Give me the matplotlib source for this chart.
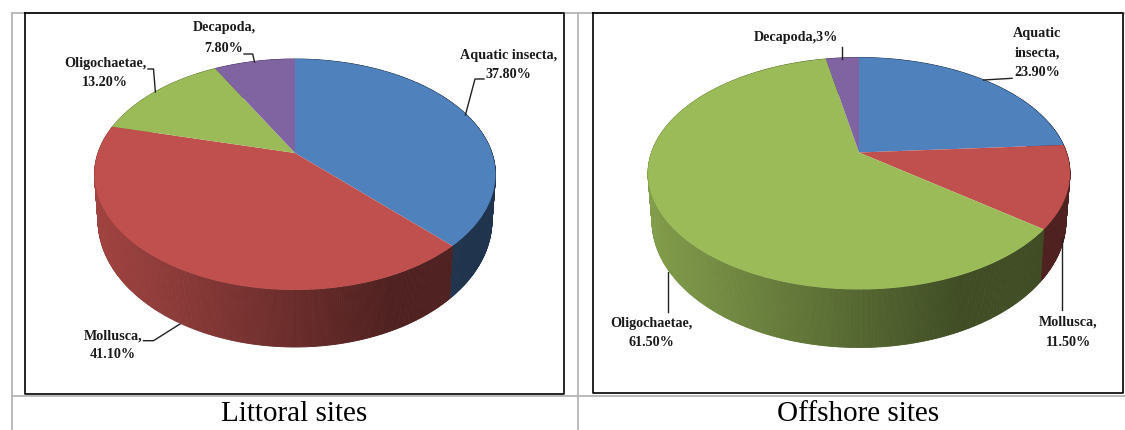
import numpy as np
import matplotlib
matplotlib.use("Agg")
import matplotlib.pyplot as plt
from matplotlib.collections import PolyCollection
from matplotlib.transforms import Transform

# Share of each taxon per site type, in clockwise order from twelve o'clock
categories = ["Aquatic insecta", "Mollusca", "Oligochaetae", "Decapoda"]
littoral_values = [37.8, 41.1, 13.2, 7.8]
offshore_values = [23.9, 11.5, 61.5, 3.0]
panel_titles = ["Littoral sites", "Offshore sites"]

SLICE_COLORS = ["#4F81BD", "#C0504D", "#9BBB59", "#8064A2"]
W, H = 1125, 430
SERIF = "Liberation Serif"


class TiltedDisc(Transform):
    """Projects the unit disc onto an ellipse, with the disc centre shifted towards the back."""
    input_dims = 2
    output_dims = 2

    def __init__(self, cx, cy, rx, ry, shift):
        super().__init__()
        self.params = (cx, cy, rx, ry, shift)

    def transform_non_affine(self, values):
        cx, cy, rx, ry, shift = self.params
        t = shift / ry
        xy = np.asarray(values, dtype=float)
        w = 1 + t * xy[:, 1]
        px = cx + rx * np.sqrt(1 - t * t) * xy[:, 0] / w
        py = cy - (ry * xy[:, 1] + shift) / w
        return np.column_stack([px, py])


def draw_cylinder_pie(ax, values, top, bottom, x_span):
    top_tf = TiltedDisc(*top)
    low_tf = TiltedDisc(*bottom)
    shares = np.asarray(values) / np.sum(values)
    edges = np.concatenate([[0], np.cumsum(shares)]) * 2 * np.pi

    # Outer wall: narrow strips that darken from left to right
    polys, cols = [], []
    for i, color in enumerate(SLICE_COLORS):
        n = max(int(shares[i] * 720), 2)
        th = np.linspace(edges[i], edges[i + 1], n + 1)
        rim = np.column_stack([np.sin(th), np.cos(th)])
        upper = top_tf.transform_non_affine(rim)
        lower = low_tf.transform_non_affine(rim)
        base = np.array(matplotlib.colors.to_rgb(color))
        for k in range(n):
            mid = 0.5 * (upper[k, 0] + upper[k + 1, 0])
            frac = np.clip((mid - x_span[0]) / (0.74 * (x_span[1] - x_span[0])), 0, 1)
            shade = 0.84 - 0.43 * frac
            polys.append([upper[k], upper[k + 1], lower[k + 1], lower[k]])
            cols.append(base * shade)
    ax.add_collection(PolyCollection(polys, facecolors=cols, edgecolors=cols,
                                     linewidths=0.6, zorder=2))

    # Top face
    ax.pie(values, colors=SLICE_COLORS, startangle=90, counterclock=False, normalize=True,
           wedgeprops={"transform": top_tf + ax.transData, "zorder": 3,
                       "linewidth": 0.4, "edgecolor": "none"})


fig = plt.figure(figsize=(W / 100, H / 100), dpi=100, facecolor="white")
ax = fig.add_axes([0, 0, 1, 1])

# Left pie
draw_cylinder_pie(ax, littoral_values, (295, 174.5, 200.5, 115.5, 21.5),
                  (295, 220, 197, 127, 23.6), (94, 495))
# Right pie
draw_cylinder_pie(ax, offshore_values, (859, 173.5, 211, 116, 21),
                  (859, 220.5, 207, 127, 23), (648, 1070))

ax.set_aspect("auto")
ax.set_xlim(0, W)
ax.set_ylim(H, 0)
ax.axis("off")

# Table rules and chart frames
GRAY = "#b5b5b5"
for xs, ys in [((11, W), (12.5, 12.5)), ((11, W), (396, 396)), ((11.5, 11.5), (12, H)),
               ((578, 578), (12, H))]:
    ax.plot(xs, ys, color=GRAY, lw=1.3, zorder=1, solid_capstyle="butt")
for x0, x1, y0, y1 in [(25, 563.5, 13, 394), (592.5, 1123, 13, 393)]:
    ax.plot([x0, x1, x1, x0, x0], [y0, y0, y1, y1, y0], color="black", lw=1.2, zorder=1)

# Leader lines
leaders = [
    [(484, 79), (475, 79), (465.4, 115)],
    [(244, 54), (252.7, 54), (254.5, 62)],
    [(148, 69), (153.5, 69), (155.4, 92)],
    [(143.5, 340.7), (153.5, 340.7), (180, 324)],
    [(1012, 78.3), (983.5, 80)],
    [(842, 47), (842, 59)],
    [(668, 272), (668, 312)],
    [(1062, 238), (1062, 310)],
]
for pts in leaders:
    px, py = zip(*pts)
    ax.plot(px, py, color="#222222", lw=1.0, zorder=4)

# Slice labels
slice_labels = [
    ("Aquatic insecta,", 509, 55), ("37.80%", 508, 75),
    ("Decapoda,", 224, 28), ("7.80%", 224, 48),
    ("Oligochaetae,", 105, 64), ("13.20%", 105, 83),
    ("Mollusca,", 113, 336), ("41.10%", 113, 355),
    ("Decapoda,3%", 796, 37.5),
    ("Aquatic", 1037, 33), ("insecta,", 1037, 53), ("23.90%", 1037, 73),
    ("Oligochaetae,", 651, 323), ("61.50%", 651, 343),
    ("Mollusca,", 1068, 322), ("11.50%", 1068, 343),
]
for text, x, y in slice_labels:
    ax.text(x, y, text, family=SERIF, weight="bold", fontsize=10.2, color="#1a1a1a",
            ha="center", va="center", zorder=5)

for title, x in zip(panel_titles, (294, 858)):
    ax.text(x, 414, title, family=SERIF, fontsize=21, color="black",
            ha="center", va="center", zorder=5)

fig.savefig("out.png", dpi=100, facecolor="white")
